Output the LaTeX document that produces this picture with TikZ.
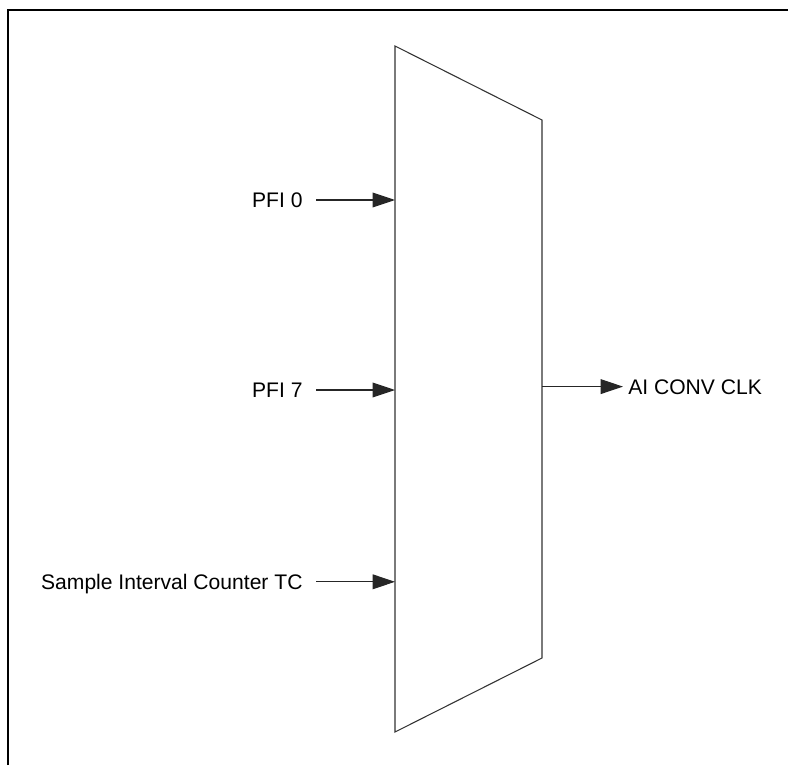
\documentclass[tikz,border=0pt]{standalone}
\usepackage{fontspec}
\setmainfont{Liberation Sans}
\usetikzlibrary{arrows.meta}

\begin{document}
\begin{tikzpicture}[>={Triangle[length=5.6mm,width=3.7mm]},line join=miter,
  lbl/.style={font=\fontsize{15}{18}\selectfont,inner ysep=0pt,text height=10.75pt,text depth=0pt},
  sig/.style={->,black!85,line width=0.75pt}]
\useasboundingbox (0,0) rectangle (19.7,19.125);
% frame
\draw[line width=1.8pt] (0.2,0) -- (0.2,18.875) -- (19.7,18.875);
% multiplexer
\coordinate (mtl) at (9.875,17.975);
\coordinate (mtr) at (13.55,16.125);
\coordinate (mbr) at (13.55,2.675);
\coordinate (mbl) at (9.875,0.825);
\draw[black!80,line width=0.75pt] (mtl) -- (mtr) -- (mbr) -- (mbl) -- cycle;
\coordinate (in0) at (9.875,14.125);
\coordinate (in7) at (9.875,9.375);
\coordinate (intc) at (9.875,4.58);
\coordinate (out) at (13.55,9.46);
% inputs
\node[lbl,anchor=east,inner xsep=0.33cm] (pfi0) at (7.9,14.125) {PFI 0};
\node[lbl,anchor=east,inner xsep=0.33cm] (pfi7) at (7.9,9.375) {PFI 7};
\node[lbl,anchor=east,inner xsep=0.33cm] (sictc) at (7.9,4.58) {Sample Interval Counter TC};
\draw[sig] (pfi0) -- (in0);
\draw[sig] (pfi7) -- (in7);
\draw[sig] (sictc) -- (intc);
% output
\node[lbl,anchor=west,inner xsep=0.125cm] (aiconv) at (15.575,9.46) {AI CONV CLK};
\draw[sig] (out) -- (aiconv);
\end{tikzpicture}
\end{document}
